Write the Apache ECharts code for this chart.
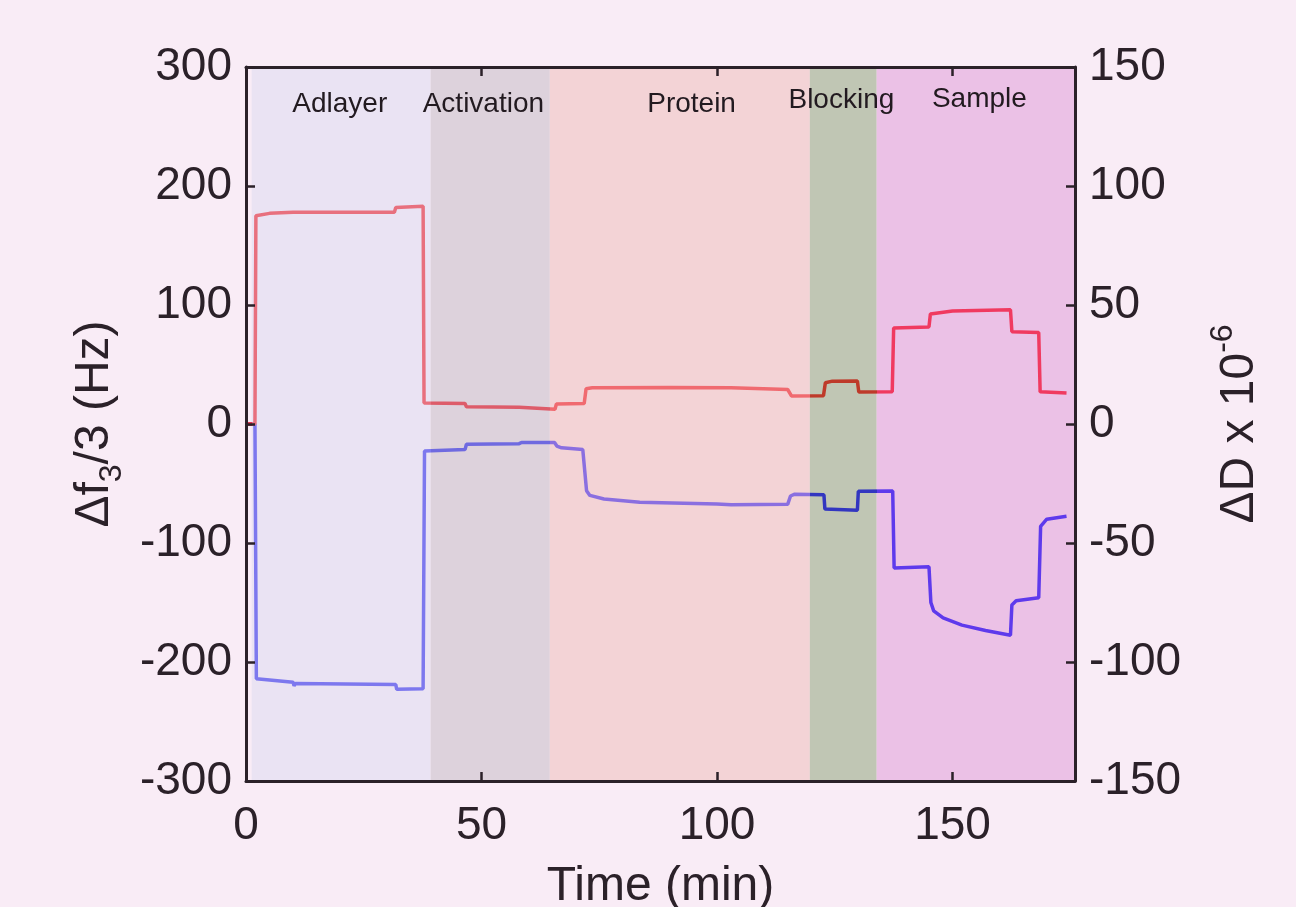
<!DOCTYPE html>
<html>
<head>
<meta charset="utf-8">
<script src="https://cdn.jsdelivr.net/npm/echarts@6/dist/echarts.min.js"></script>
<style>
  html, body { margin: 0; background: #f9ecf6; }
  #chart { width: 1296px; height: 907px; }
</style>
</head>
<body>
<div id="chart"></div>
<script>
// QCM-D run: frequency shift (left axis) and dissipation (right axis) over the
// five assay phases. Phase shading sits behind both traces.
const PHASES = ['Adlayer', 'Activation', 'Protein', 'Blocking', 'Sample']
const PHASE_START = [1.2, 39.2, 64.5, 119.7, 133.9]
const PHASE_END = [39.2, 64.5, 119.7, 133.9, 176]
const LABEL_T = [19.9, 50.4, 94.6, 126.4, 155.7]
const LABEL_HZ = [269, 269, 269, 272, 273]

// time (min), Δf3/3 (Hz)
const FREQ = [
  [0, 0], [1.9, 0], [2.2, -214], [10, -217], [10.2, -220], [10.5, -218], [31.8, -219],
  [32, -223], [32.3, -222], [37.6, -222.5], [37.9, -22.6], [46.5, -21.5], [46.8, -17],
  [58, -16.5], [58.2, -17.5], [58.5, -15.5], [65.5, -15.5], [66, -18.5], [67, -20],
  [71.5, -21.5], [72.3, -56], [73, -60], [76, -63], [83.6, -65.7], [100, -67.3],
  [103, -67.8], [115, -67.5], [115.6, -60.5], [116.5, -59], [122.7, -59.5], [122.9, -71.5],
  [129.8, -72.5], [130, -56.5], [137.3, -56.3], [137.6, -121], [145, -120], [145.4, -150],
  [146, -157], [148, -163], [152, -169], [157, -173.5], [162.3, -177.5], [162.6, -152],
  [163.5, -148.5], [168.3, -146], [168.7, -86], [170, -80], [174.2, -77.5]
]
// time (min), ΔD (x 10^-6)
const DISS = [
  [0, 0], [1.9, 0], [2.1, 87.5], [5, 88.5], [10, 89], [10.3, 89.5], [20, 89], [31.5, 89],
  [31.8, 91], [37.6, 91.5], [37.8, 8.8], [46.5, 8.6], [46.8, 7.2], [58, 7], [58.3, 6.2],
  [65.6, 6.2], [65.9, 8.4], [71.8, 8.6], [72.2, 14.8], [73.5, 15.2], [90, 15.3], [103, 15.2],
  [103.3, 14.7], [115, 14.5], [115.8, 11.8], [122.6, 11.9], [123, 17.3], [124.5, 18],
  [129.8, 18.1], [130.1, 13.4], [137.2, 13.6], [137.5, 40.3], [145, 40.8], [145.3, 46.2],
  [150, 47.5], [162.3, 48], [162.6, 38.8], [168.3, 38.4], [168.6, 13.5], [174.2, 13]
]

const INK = '#2b2129'
const FONT = 'Liberation Sans, Arial, sans-serif'
const FILL = ['#eae3f3', '#ddd2dc', '#f3d3d6', '#c0c6b4', '#ebc1e6']
const BLUE_IN = ['#7d78ee', '#6f6ae0', '#8a6fe0', '#3236c0', '#5e3aec']
const RED_IN = ['#e8707e', '#dd5c6a', '#f06a70', '#be3a2a', '#f03a60']

const pieces = (cols, pre) => [{ lt: PHASE_START[0], color: pre }].concat(
  PHASE_START.map((s, i) => ({ gte: s, lt: i === PHASE_START.length - 1 ? 1000 : PHASE_END[i], color: cols[i] })))

const axisLine = () => ({ show: true, onZero: false, lineStyle: { color: INK, width: 3 } })
const axisTick = () => ({ show: true, inside: true, length: 9, lineStyle: { color: INK, width: 2.5 } })
const tickFont = () => ({ fontSize: 46, color: INK, fontFamily: FONT })
const nameFont = () => ({ fontSize: 48, color: INK, fontFamily: FONT, lineHeight: 66,
  rich: {
    sub: { fontSize: 32, fontFamily: FONT, color: INK, verticalAlign: 'bottom', lineHeight: 32 },
    sup: { fontSize: 32, fontFamily: FONT, color: INK, verticalAlign: 'top', lineHeight: 32 }
  } })

const chart = echarts.init(document.getElementById('chart'))
chart.setOption({
  backgroundColor: '#f9ecf6',
  animation: false,
  grid: { left: 246, right: 221, top: 67, bottom: 126, outerBoundsMode: 'none', containLabel: false },
  xAxis: [
    { type: 'value', min: 0, max: 176, interval: 50, position: 'bottom', z: 10,
      axisLine: axisLine(), axisTick: axisTick(), splitLine: { show: false },
      axisLabel: Object.assign({ margin: 22, showMaxLabel: false }, tickFont()),
      name: 'Time (min)', nameLocation: 'middle', nameGap: 67, nameTextStyle: nameFont() },
    { type: 'value', min: 0, max: 176, interval: 50, position: 'top', z: 10,
      axisLine: axisLine(), axisTick: axisTick(), splitLine: { show: false }, axisLabel: { show: false } }
  ],
  yAxis: [
    { type: 'value', min: -300, max: 300, interval: 100, position: 'left', z: 10,
      axisLine: axisLine(), axisTick: axisTick(), splitLine: { show: false },
      axisLabel: Object.assign({ margin: 14 }, tickFont()),
      name: 'Δf{sub|3}/3 (Hz)', nameLocation: 'middle', nameRotate: 90, nameGap: 118,
      nameTextStyle: nameFont() },
    { type: 'value', min: -150, max: 150, interval: 50, position: 'right', z: 10,
      axisLine: axisLine(), axisTick: axisTick(), splitLine: { show: false },
      axisLabel: Object.assign({ margin: 14 }, tickFont()),
      name: 'ΔD x 10{sup|-6}', nameLocation: 'middle', nameRotate: 90, nameGap: 132,
      nameTextStyle: nameFont() }
  ],
  visualMap: [
    { type: 'piecewise', show: false, dimension: 0, seriesIndex: 1, pieces: pieces(BLUE_IN, '#5050ff') },
    { type: 'piecewise', show: false, dimension: 0, seriesIndex: 2, pieces: pieces(RED_IN, '#ff2020') }
  ],
  series: [
    { type: 'line', silent: true, z: 0, data: [],
      markArea: { silent: true,
        data: PHASES.map((n, i) => [
          { xAxis: PHASE_START[i], yAxis: -300, itemStyle: { color: FILL[i], opacity: 1 } },
          { xAxis: PHASE_END[i], yAxis: 300 }
        ]) } },
    { type: 'line', name: 'freq', yAxisIndex: 0, z: 2, showSymbol: false,
      lineStyle: { width: 3.5 }, data: FREQ },
    { type: 'line', name: 'diss', yAxisIndex: 1, z: 3, showSymbol: false,
      lineStyle: { width: 3.5 }, data: DISS },
    { type: 'scatter', silent: true, z: 4, symbolSize: 1,
      itemStyle: { color: 'rgba(0,0,0,0)', opacity: 1 },
      data: LABEL_T.map((t, i) => [t, LABEL_HZ[i], PHASES[i]]),
      label: { show: true, position: 'inside', formatter: p => p.data[2], opacity: 1,
        textBorderWidth: 0, fontSize: 28, color: '#221a20', fontFamily: FONT } }
  ]
})
</script>
</body>
</html>
